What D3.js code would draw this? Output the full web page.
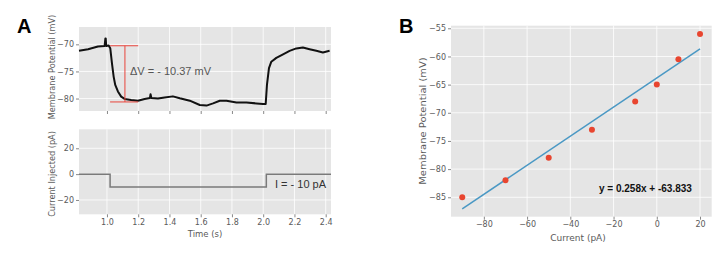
<!DOCTYPE html>
<html><head><meta charset="utf-8">
<script src="https://cdn.jsdelivr.net/npm/d3@7"></script>
<style>body{margin:0;background:#fff}svg{display:block}</style>
</head><body>
<svg id="c" width="728" height="256"></svg>
<script>
// ---- Data ----
const traceTime = [0.821,0.879,0.942,0.985,0.990,0.992,0.995,1.011,1.021,1.032,1.043,1.053,1.070,1.091,1.113,1.155,1.198,1.241,1.275,1.279,1.284,1.326,1.369,1.422,1.466,1.530,1.594,1.637,1.679,1.722,1.765,1.829,1.893,1.957,1.999,2.016,2.024,2.037,2.052,2.084,2.127,2.169,2.212,2.254,2.297,2.340,2.382,2.425];
const traceVolt = [-71.2,-70.9,-70.4,-70.3,-68.9,-68.9,-70.3,-70.2,-70.7,-73.5,-76.0,-77.5,-78.7,-79.65,-80.07,-80.26,-80.4,-80.07,-79.9,-79.2,-79.9,-80.0,-79.8,-79.6,-79.95,-80.4,-81.2,-81.3,-80.9,-80.4,-80.4,-80.75,-80.75,-80.9,-81.0,-81.0,-77.5,-74.4,-73.2,-72.5,-71.85,-71.2,-70.75,-70.6,-70.9,-71.2,-71.5,-71.2];
const stepTime = [0.821,1.02,1.02,2.02,2.02,2.434];
const stepCurrent = [0,0,-10,-10,0,0];
const timeTicks = [1.0,1.2,1.4,1.6,1.8,2.0,2.2,2.4];
const voltTicks = [-70,-75,-80];
const currTicks = [20,0,-20];
const deltaV = {tStart:1.02,tEnd:1.20,tMid:1.115,vTop:-70.26,vBottom:-80.63};
const ivCurrent = [-90,-70,-50,-30,-10,0,10,20];
const ivVoltage = [-85,-82,-78,-73,-68,-65,-60.5,-56];
const fitSlope = 0.258, fitIntercept = -63.833;
const ivXTicks = [-80,-60,-40,-20,0,20];
const ivYTicks = [-55,-60,-65,-70,-75,-80,-85];

const svg = d3.select("#c");
const BG="#e5e5e5", TXT="#5a5a5a", TF="DejaVu Sans, sans-serif";
const minus = d=>d3.format("d")(d).replace("-","\u2212");

function panel(x0,x1,y0,y1,xs,ys,xt,yt,showXLabels,xfmt){
  const g = svg.append("g");
  g.append("rect").attr("x",x0).attr("y",y0).attr("width",x1-x0).attr("height",y1-y0).attr("fill",BG);
  g.selectAll(".vg").data(xt).join("line").attr("x1",d=>xs(d)).attr("x2",d=>xs(d)).attr("y1",y0).attr("y2",y1).attr("stroke","#fff").attr("stroke-width",0.8);
  g.selectAll(".hg").data(yt).join("line").attr("y1",d=>ys(d)).attr("y2",d=>ys(d)).attr("x1",x0).attr("x2",x1).attr("stroke","#fff").attr("stroke-width",0.8);
  const ax = d3.axisBottom(xs).tickValues(xt).tickSize(3).tickPadding(2).tickFormat(showXLabels?xfmt:"");
  const xa = g.append("g").attr("transform",`translate(0,${y1})`).call(ax);
  const ay = d3.axisLeft(ys).tickValues(yt).tickSize(3).tickPadding(2).tickFormat(minus);
  const ya = g.append("g").attr("transform",`translate(${x0},0)`).call(ay);
  [xa,ya].forEach(a=>{a.select(".domain").remove();a.selectAll("line").attr("stroke","#888");a.selectAll("text").attr("fill",TXT).attr("font-size",8).attr("font-family",TF);});
  return g;
}
function yLabel(x,y,txt,fs,s){
  svg.append("text").attr("transform",`translate(${x},${y}) rotate(-90) scale(${s},1)`).attr("text-anchor","middle").attr("font-family",TF).attr("font-size",fs).attr("fill",TXT).text(txt);
}

// Panel A top
const xA = d3.scaleLinear().domain([0.821,2.434]).range([79,331]);
const yV = d3.scaleLinear().domain([-66.8,-82.3]).range([27,111]);
panel(79,331,27,111,xA,yV,timeTicks,voltTicks,false);
svg.append("path").datum(traceTime.map((t,i)=>[t,traceVolt[i]]))
  .attr("d",d3.line().x(d=>xA(d[0])).y(d=>yV(d[1])))
  .attr("fill","none").attr("stroke","#111").attr("stroke-width",2).attr("stroke-linejoin","round");
const red="#e8453c";
[deltaV.vTop,deltaV.vBottom].forEach(v=>{
  svg.append("line").attr("x1",xA(deltaV.tStart)).attr("x2",xA(deltaV.tEnd)).attr("y1",yV(v)).attr("y2",yV(v)).attr("stroke",red).attr("stroke-width",1);
});
svg.append("line").attr("x1",xA(deltaV.tMid)).attr("x2",xA(deltaV.tMid)).attr("y1",yV(deltaV.vTop)).attr("y2",yV(deltaV.vBottom)).attr("stroke",red).attr("stroke-width",1);
svg.append("text").attr("x",130).attr("y",75).attr("font-family","Liberation Sans, Arial, sans-serif").attr("font-size",11).attr("fill","#555").text("\u0394V = - 10.37 mV");
yLabel(55,67,"Membrane Potential (mV)",8,1.02);

// Panel A bottom
const yI = d3.scaleLinear().domain([34.7,-31.1]).range([129.3,214.3]);
panel(79,331,129.3,214.3,xA,yI,timeTicks,currTicks,true,d3.format(".1f"));
svg.append("path").datum(stepTime.map((t,i)=>[t,stepCurrent[i]]))
  .attr("d",d3.line().x(d=>xA(d[0])).y(d=>yI(d[1])))
  .attr("fill","none").attr("stroke","#7a7a7a").attr("stroke-width",1.5);
svg.append("text").attr("x",275).attr("y",187.5).attr("font-family","Liberation Sans, Arial, sans-serif").attr("font-size",11).attr("fill","#333").text("I = - 10 pA");
yLabel(55,174,"Current Injected (pA)",8,1.02);
svg.append("text").attr("x",205).attr("y",236.5).attr("text-anchor","middle").attr("font-family",TF).attr("font-size",8.5).attr("fill",TXT).text("Time (s)");

// Panel B
const xB = d3.scaleLinear().domain([-95.2,25.4]).range([451,711.7]);
const yB = d3.scaleLinear().domain([-54.54,-88.45]).range([25.7,216.7]);
panel(451,711.7,25.7,216.7,xB,yB,ivXTicks,ivYTicks,true,minus);
svg.append("line").attr("x1",xB(-90)).attr("x2",xB(20)).attr("y1",yB(fitSlope*-90+fitIntercept)).attr("y2",yB(fitSlope*20+fitIntercept)).attr("stroke","#4a98c4").attr("stroke-width",1.5);
svg.selectAll(".pt").data(ivCurrent).join("circle").attr("cx",d=>xB(d)).attr("cy",(d,i)=>yB(ivVoltage[i])).attr("r",3).attr("fill","#e8452f");
svg.append("text").attr("x",599).attr("y",191.5).attr("font-family","Liberation Sans, Arial, sans-serif").attr("font-weight","bold").attr("font-size",10).attr("fill","#111").text(`y = ${fitSlope}x + ${fitIntercept}`);
yLabel(426,121,"Membrane Potential (mV)",8.5,1.17);
svg.append("text").attr("x",578).attr("y",240.5).attr("text-anchor","middle").attr("font-family",TF).attr("font-size",9).attr("fill",TXT).text("Current (pA)");

// Panel letters
svg.append("text").attr("x",17).attr("y",33).attr("font-family","Liberation Sans, Arial, sans-serif").attr("font-weight","bold").attr("font-size",20).attr("fill","#000").text("A");
svg.append("text").attr("x",399).attr("y",33).attr("font-family","Liberation Sans, Arial, sans-serif").attr("font-weight","bold").attr("font-size",20).attr("fill","#000").text("B");
</script>
</body></html>
